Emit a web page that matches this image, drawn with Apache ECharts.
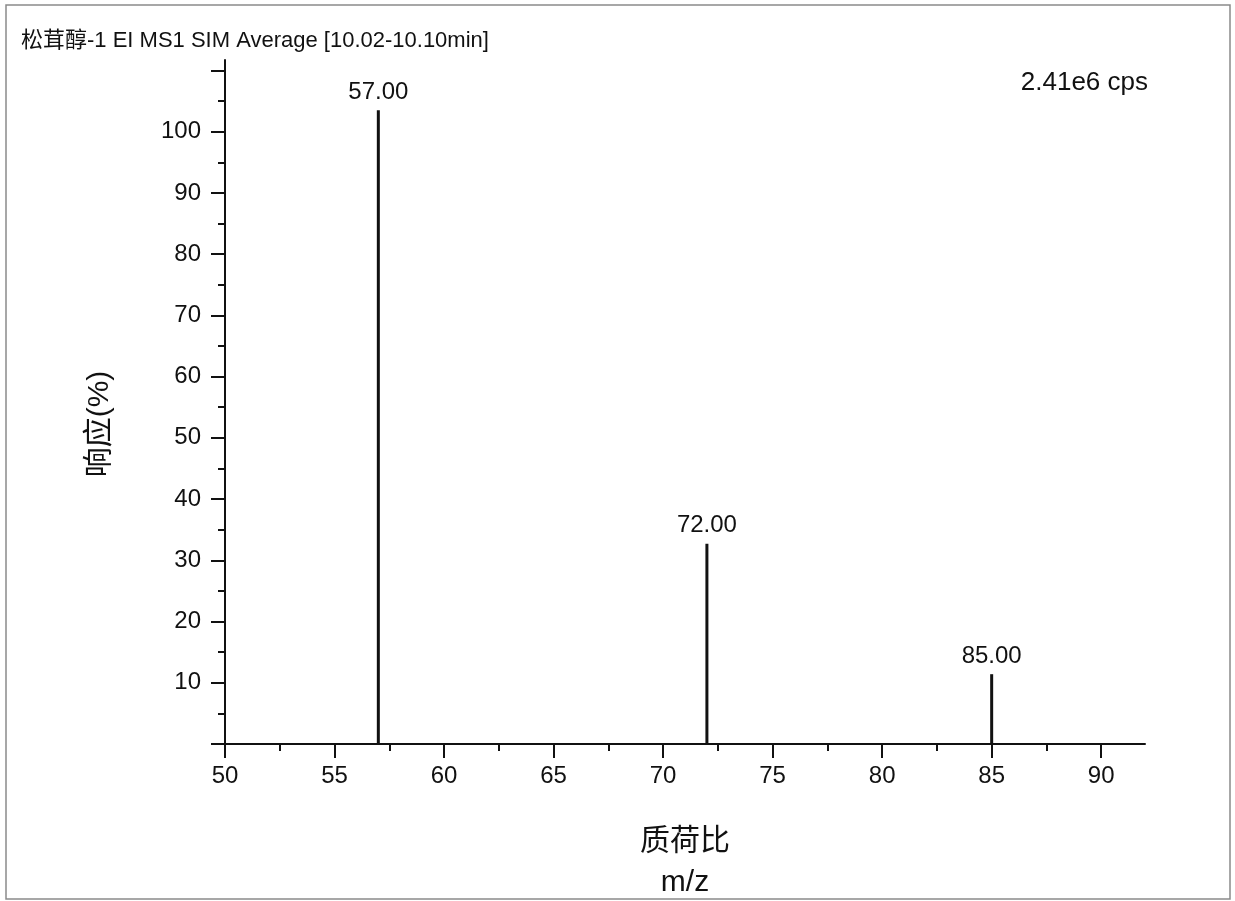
<!DOCTYPE html>
<html>
<head>
<meta charset="utf-8">
<title>松茸醇-1 EI MS1 SIM Average</title>
<script src="https://cdn.jsdelivr.net/npm/echarts@6/dist/echarts.min.js"></script>
<style>
  html, body { margin: 0; padding: 0; background: #fff; }
  #chart { width: 1235px; height: 901px; }
</style>
</head>
<body>
<div id="chart"></div>
<script>
// Peaks of the averaged SIM spectrum (m/z, relative response %)
const mzValues = [57, 72, 85];
const responses = [103.5, 32.7, 11.4];

// Axis ranges and tick positions
const xRange = [50, 92];
const yRange = [0, 111.7];
const xMajorTicks = [50, 55, 60, 65, 70, 75, 80, 85, 90];
const xMinorTicks = [52.5, 57.5, 62.5, 67.5, 72.5, 77.5, 82.5, 87.5];
const yMajorTicks = [0, 10, 20, 30, 40, 50, 60, 70, 80, 90, 100, 110];
const yLabelTicks = [10, 20, 30, 40, 50, 60, 70, 80, 90, 100];
const yMinorTicks = [5, 15, 25, 35, 45, 55, 65, 75, 85, 95, 105];

// Texts
const titleText = '松茸醇-1 EI MS1 SIM Average [10.02-10.10min]';
const scaleText = '2.41e6 cps';
const xName = '质荷比\nm/z';
const yName = '响应(%)';

const INK = '#111';
const FONT = "'Liberation Sans', Arial, 'Noto Sans CJK SC', sans-serif";

const chart = echarts.init(document.getElementById('chart'), null, { renderer: 'canvas' });

const peakData = mzValues.map((mz, i) => [mz, responses[i]]);

const lineStyle = { color: INK, width: 2 };

chart.setOption({
  animation: false,
  backgroundColor: '#fff',
  title: [
    {
      text: titleText,
      left: 16, top: 25,
      textStyle: { fontFamily: FONT, fontSize: 22, fontWeight: 'normal', color: INK }
    },
    {
      text: scaleText,
      right: 82, top: 65,
      textStyle: { fontFamily: FONT, fontSize: 26, fontWeight: 'normal', color: INK }
    }
  ],
  graphic: [
    {
      type: 'rect',
      shape: { x: 6, y: 5, width: 1224, height: 894 },
      style: { fill: 'none', stroke: '#8a8a8a', lineWidth: 1.5 },
      silent: true
    }
  ],
  grid: { left: 225, right: 90, top: 60, bottom: 157, containLabel: false, outerBoundsMode: 'none' },
  xAxis: [
    {
      type: 'value', position: 'bottom', min: xRange[0], max: xRange[1],
      axisLine: { show: true, lineStyle },
      axisTick: { show: true, inside: false, length: 14, lineStyle, customValues: xMajorTicks },
      axisLabel: {
        show: true, margin: 20, customValues: xMajorTicks,
        fontFamily: FONT, fontSize: 24, color: INK
      },
      splitLine: { show: false },
      name: xName, nameLocation: 'middle', nameGap: 77,
      nameTextStyle: { fontFamily: FONT, fontSize: 30, color: INK, lineHeight: 41 }
    },
    {
      type: 'value', position: 'bottom', min: xRange[0], max: xRange[1],
      axisLine: { show: false },
      axisTick: { show: true, inside: false, length: 7, lineStyle, customValues: xMinorTicks },
      axisLabel: { show: false },
      splitLine: { show: false }
    }
  ],
  yAxis: [
    {
      type: 'value', position: 'left', min: yRange[0], max: yRange[1],
      axisLine: { show: true, lineStyle },
      axisTick: { show: true, inside: false, length: 14, lineStyle, customValues: yMajorTicks },
      axisLabel: {
        show: true, margin: 24, customValues: yLabelTicks,
        fontFamily: FONT, fontSize: 24, color: INK
      },
      splitLine: { show: false },
      name: yName, nameLocation: 'middle', nameGap: 110, nameRotate: 90,
      nameTextStyle: { fontFamily: FONT, fontSize: 30, color: INK, padding: [0, 44, 0, 0] }
    },
    {
      type: 'value', position: 'left', min: yRange[0], max: yRange[1],
      axisLine: { show: false },
      axisTick: { show: true, inside: false, length: 7, lineStyle, customValues: yMinorTicks },
      axisLabel: { show: false },
      splitLine: { show: false }
    }
  ],
  series: [
    {
      type: 'bar',
      xAxisIndex: 0, yAxisIndex: 0,
      data: peakData,
      barWidth: 3,
      itemStyle: { color: INK },
      label: {
        show: true, position: 'top', distance: 6,
        formatter: p => p.value[0].toFixed(2),
        fontFamily: FONT, fontSize: 24, color: INK
      }
    }
  ]
});
</script>
</body>
</html>
